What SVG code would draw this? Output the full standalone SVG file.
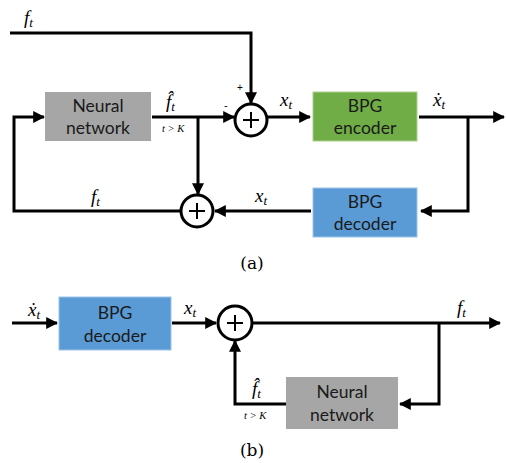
<svg xmlns="http://www.w3.org/2000/svg" width="506" height="463" viewBox="0 0 506 463">
<defs>
<marker id="ah" viewBox="0 0 10 10" refX="9" refY="5" markerWidth="4" markerHeight="4" markerUnits="strokeWidth" orient="auto">
<path d="M0,0 L10,5 L0,10 Z" fill="#000"/>
</marker>
<style>
.ln{fill:none;stroke:#000;stroke-width:3}
.ar{marker-end:url(#ah)}
.box{font-family:Lato,"Open Sans",sans-serif;font-size:17.5px;fill:#1a1a1a;text-anchor:middle}
.m{font-family:"Liberation Serif","DejaVu Serif",serif;font-style:italic;font-size:19px;fill:#000}
.sub{font-size:13px}
.sm{font-family:"Liberation Serif",serif;font-style:italic;font-size:10.5px;fill:#000}
.cap{font-family:"DejaVu Serif","Liberation Serif",serif;font-size:17px;fill:#000;text-anchor:middle}
.circ{fill:#fff;stroke:#000;stroke-width:3}
.plus{stroke:#000;stroke-width:2}
</style>
</defs>

<g id="connectors">
<!-- (a) -->
<polyline class="ln ar" points="10,33 251,33 251,103"/>
<line class="ln ar" x1="152" y1="117" x2="234" y2="117"/>
<polyline class="ln ar" points="198,117 198,194"/>
<line class="ln ar" x1="267" y1="117" x2="310" y2="117"/>
<line class="ln ar" x1="419" y1="117" x2="504" y2="117"/>
<polyline class="ln ar" points="468,117 468,211 421,211"/>
<line class="ln ar" x1="311" y1="211" x2="215" y2="211"/>
<polyline class="ln ar" points="181,211 14,211 14,117 44,117"/>
<!-- (b) -->
<line class="ln ar" x1="12" y1="323" x2="57" y2="323"/>
<line class="ln ar" x1="172" y1="323" x2="216" y2="323"/>
<line class="ln ar" x1="252" y1="323" x2="500" y2="323"/>
<polyline class="ln ar" points="439,323 439,404 400,404"/>
<polyline class="ln ar" points="286,404 235,404 235,341"/>
</g>

<g id="sum1">
<circle class="circ" cx="251" cy="120" r="16"/>
<line class="plus" x1="243" y1="120" x2="259" y2="120"/>
<line class="plus" x1="251" y1="112" x2="251" y2="128"/>
<text x="237" y="91" font-family="Liberation Sans,sans-serif" font-size="10">+</text>
<text x="224" y="109" font-family="Liberation Sans,sans-serif" font-size="11">-</text>
</g>
<g id="sum2">
<circle class="circ" cx="197" cy="211" r="16"/>
<line class="plus" x1="189" y1="211" x2="205" y2="211"/>
<line class="plus" x1="197" y1="203" x2="197" y2="219"/>
</g>
<g id="sum3">
<circle class="circ" cx="235" cy="323" r="17"/>
<line class="plus" x1="227" y1="323" x2="243" y2="323"/>
<line class="plus" x1="235" y1="315" x2="235" y2="331"/>
</g>

<g id="nn-a">
<rect x="45" y="92" width="106" height="49" fill="#a6a6a6"/>
<text class="box" x="98" y="112">Neural</text>
<text class="box" x="98" y="134">network</text>
</g>
<g id="enc-a">
<rect x="313" y="92" width="104" height="49" fill="#70ad47" stroke="#a9d18e" stroke-width="1"/>
<text class="box" x="365" y="112">BPG</text>
<text class="box" x="365" y="134">encoder</text>
</g>
<g id="dec-a">
<rect x="313" y="188" width="104" height="49" fill="#5b9bd5" stroke="#9dc3e6" stroke-width="1"/>
<text class="box" x="365" y="208">BPG</text>
<text class="box" x="365" y="230">decoder</text>
</g>
<g id="dec-b">
<rect x="59" y="297" width="112" height="53" fill="#5b9bd5" stroke="#9dc3e6" stroke-width="1"/>
<text class="box" x="115" y="319">BPG</text>
<text class="box" x="115" y="342">decoder</text>
</g>
<g id="nn-b">
<rect x="286" y="377" width="112" height="52" fill="#a6a6a6"/>
<text class="box" x="342" y="398">Neural</text>
<text class="box" x="342" y="421">network</text>
</g>

<g id="labels">
<text class="m" x="24" y="24">f<tspan class="sub" dy="3">t</tspan></text>
<text class="m" x="166" y="108">f̂<tspan class="sub" dy="3">t</tspan></text>
<text class="sm" x="162" y="132">t &gt; K</text>
<text class="m" x="280" y="106">x<tspan class="sub" dy="3">t</tspan></text>
<text class="m" x="433" y="106">ẋ<tspan class="sub" dy="3">t</tspan></text>
<text class="m" x="255" y="202">x<tspan class="sub" dy="3">t</tspan></text>
<text class="m" x="91" y="203">f<tspan class="sub" dy="3">t</tspan></text>
<text class="cap" x="252" y="269">(a)</text>

<text class="m" x="28" y="316">ẋ<tspan class="sub" dy="3">t</tspan></text>
<text class="m" x="184" y="314">x<tspan class="sub" dy="3">t</tspan></text>
<text class="m" x="457" y="314">f<tspan class="sub" dy="3">t</tspan></text>
<text class="m" x="252" y="395">f̂<tspan class="sub" dy="3">t</tspan></text>
<text class="sm" x="244" y="419">t &gt; K</text>
<text class="cap" x="252" y="456">(b)</text>
</g>
</svg>
